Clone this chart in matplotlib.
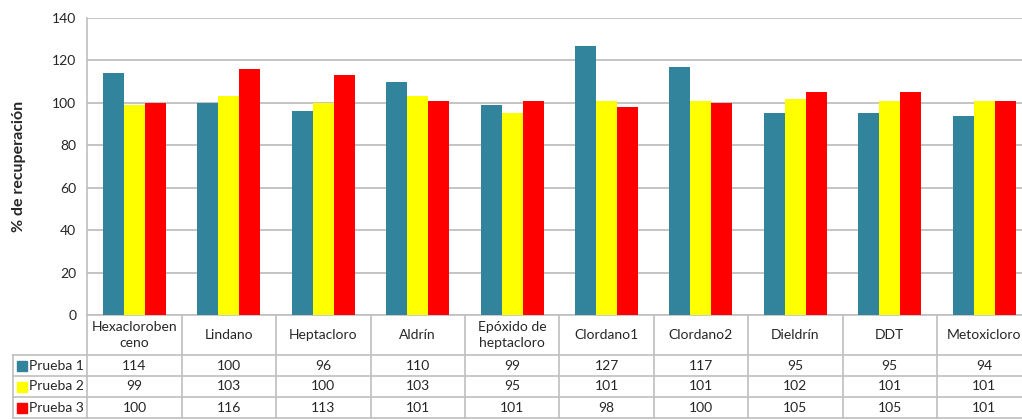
import matplotlib.pyplot as plt
import numpy as np

compuestos = ["Hexacloroben\nceno", "Lindano", "Heptacloro", "Aldrín", "Epóxido de\nheptacloro",
              "Clordano1", "Clordano2", "Dieldrín", "DDT", "Metoxicloro"]
series = ["Prueba 1", "Prueba 2", "Prueba 3"]
prueba1 = [114, 100, 96, 110, 99, 127, 117, 95, 95, 94]
prueba2 = [99, 103, 100, 103, 95, 101, 101, 102, 101, 101]
prueba3 = [100, 116, 113, 101, 101, 98, 100, 105, 105, 101]
colores = ["#31849B", "#FFFF00", "#FF0000"]

plt.rcParams['font.family'] = ['Lato', 'DejaVu Sans']

fig = plt.figure(figsize=(10.22, 4.2), dpi=100)
ax = fig.add_axes([87.3 / 1022, 0.25, 944 / 1022, 297 / 420])

x = np.arange(len(compuestos))
w = 0.222
for i, (vals, c) in enumerate(zip([prueba1, prueba2, prueba3], colores)):
    ax.bar(x + (i - 1) * w, vals, width=w, color=c, zorder=3)

ax.set_xlim(-0.5, len(compuestos) - 0.5)
ax.set_ylim(0, 140)
ax.set_yticks(np.arange(0, 141, 20))
ax.yaxis.grid(True, color="#BFBFBF", linewidth=1.3, zorder=0)
ax.set_xticks([])
ax.tick_params(axis='y', length=0, labelsize=10, pad=8, labelcolor="#262626")
for s in ["top", "right"]:
    ax.spines[s].set_visible(False)
ax.spines["left"].set_color("#BFBFBF")
ax.spines["bottom"].set_color("#BFBFBF")
ax.spines["left"].set_linewidth(1.2)
ax.spines["bottom"].set_linewidth(1.2)
ax.set_ylabel("% de recuperación", fontsize=11.5, fontweight="bold", labelpad=19,
              color="#262626")

# tabla de datos debajo del grafico
px = 1.0 / 297
h_head = 40 * px
h_row = 21 * px
lab_w = 0.79
tr = ax.get_xaxis_transform()
lc = "#BFBFBF"
kw = dict(transform=tr, clip_on=False, color=lc, linewidth=1.2)

y_bottom = -(h_head + 3 * h_row)
for k in range(len(compuestos) + 1):
    ax.plot([k - 0.5, k - 0.5], [0, y_bottom], **kw)
ax.plot([-0.5 - lab_w, -0.5 - lab_w], [-h_head, y_bottom], **kw)
for r in range(4):
    yy = -h_head - r * h_row
    ax.plot([-0.5 - lab_w, len(compuestos) - 0.5], [yy, yy], **kw)

for k, nom in enumerate(compuestos):
    ax.text(k, -h_head / 2, nom, transform=tr, ha="center", va="center",
            fontsize=10, color="#262626", linespacing=1.35)

for r, (nom, vals, c) in enumerate(zip(series, [prueba1, prueba2, prueba3], colores)):
    yc = -h_head - (r + 0.5) * h_row
    ax.plot([-0.5 - lab_w + 0.1], [yc], marker="s", markersize=7, color=c,
            transform=tr, clip_on=False, linestyle="none")
    ax.text(-0.5 - lab_w + 0.17, yc, nom, transform=tr, ha="left", va="center",
            fontsize=10, color="#262626")
    for k, v in enumerate(vals):
        ax.text(k, yc, str(v), transform=tr, ha="center", va="center",
                fontsize=10, color="#262626")

fig.savefig("out.png", dpi=100)
